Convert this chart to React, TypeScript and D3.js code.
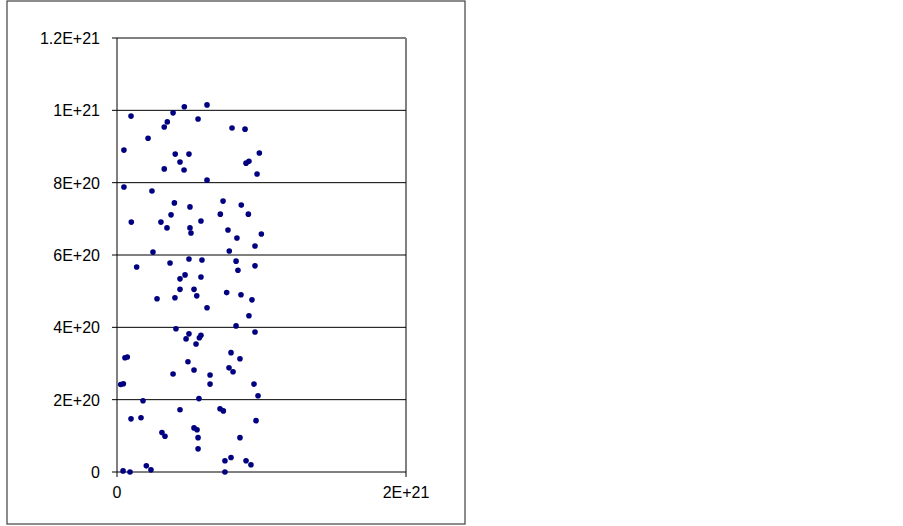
import React from "react";
import * as d3 from "d3";

const UNIT = 1e20;
// [x, y] in units of 1E+20
const points: [number, number][] = [
  [0.97, 9.84], [4.66, 10.1], [6.23, 10.15], [3.88, 9.93], [3.48, 9.68], [3.27, 9.54],
  [5.61, 9.76], [7.96, 9.51], [8.86, 9.48], [2.15, 9.23], [0.48, 8.9], [4.03, 8.79],
  [4.98, 8.79], [4.36, 8.57], [3.27, 8.38], [4.64, 8.35], [9.85, 8.82], [8.93, 8.54],
  [9.13, 8.59], [9.69, 8.24], [6.23, 8.07], [0.48, 7.88], [2.42, 7.77], [3.97, 7.44],
  [5.05, 7.33], [7.34, 7.49], [8.6, 7.38], [3.74, 7.11], [7.15, 7.13], [9.09, 7.13],
  [0.99, 6.91], [3.04, 6.91], [3.46, 6.75], [5.81, 6.94], [5.05, 6.75], [5.12, 6.61],
  [7.68, 6.69], [8.3, 6.47], [9.99, 6.58], [9.55, 6.25], [7.77, 6.11], [2.49, 6.08],
  [1.36, 5.67], [3.67, 5.78], [4.98, 5.89], [5.88, 5.86], [8.24, 5.83], [8.37, 5.58],
  [9.55, 5.7], [4.71, 5.45], [4.36, 5.34], [5.81, 5.39], [4.36, 5.05], [5.33, 5.05],
  [5.52, 4.87], [2.77, 4.79], [4.01, 4.82], [6.23, 4.54], [7.59, 4.96], [8.58, 4.9],
  [9.34, 4.76], [9.13, 4.32], [8.24, 4.04], [9.55, 3.87], [4.08, 3.96], [4.98, 3.82],
  [4.78, 3.68], [5.7, 3.71], [5.81, 3.78], [5.47, 3.54], [0.55, 3.16], [0.71, 3.18],
  [7.89, 3.3], [8.51, 3.13], [4.91, 3.05], [5.33, 2.82], [7.75, 2.88], [8.03, 2.77],
  [3.88, 2.71], [6.44, 2.68], [6.44, 2.43], [0.26, 2.42], [0.44, 2.44], [9.48, 2.43],
  [9.76, 2.11], [5.67, 2.03], [1.8, 1.97], [4.36, 1.72], [7.13, 1.75], [7.36, 1.69],
  [0.97, 1.47], [1.66, 1.5], [9.62, 1.42], [3.11, 1.09], [3.32, 0.99], [5.33, 1.22],
  [5.54, 1.17], [5.61, 0.95], [8.51, 0.95], [5.61, 0.64], [7.47, 0.31], [7.89, 0.4],
  [8.93, 0.31], [9.27, 0.2], [2.03, 0.17], [2.35, 0.06], [0.42, 0.03], [0.9, 0.0],
  [7.47, 0.0],
];

const yTicks = [0, 2e20, 4e20, 6e20, 8e20, 1e21, 1.2e21];
const yTickLabels = ["0", "2E+20", "4E+20", "6E+20", "8E+20", "1E+21", "1.2E+21"];
const xTicks = [0, 2e21];
const xTickLabels = ["0", "2E+21"];

export default function App() {
  const left = 117, right = 406, top = 38, bottom = 472;
  const x = d3.scaleLinear().domain([0, 2e21]).range([left, right]);
  const y = d3.scaleLinear().domain([0, 1.2e21]).range([bottom, top]);
  const font = "Arial, 'Liberation Sans', sans-serif";
  return (
    <svg width={903} height={526} style={{ position: "absolute", left: 0, top: 0 }}>
      <rect x={0} y={0} width={903} height={526} fill="#fff" />
      <rect x={7} y={1} width={458} height={523} fill="#fff" stroke="#404040" strokeWidth={1.2} />
      {/* plot border */}
      <line x1={left} x2={right} y1={y(1.2e21)} y2={y(1.2e21)} stroke="#808080" strokeWidth={2} />
      <line x1={right} x2={right} y1={top} y2={bottom} stroke="#808080" strokeWidth={2} />
      {/* gridlines */}
      {yTicks.slice(1, -1).map((t) => (
        <line key={t} x1={left} x2={right} y1={y(t)} y2={y(t)} stroke="#000" strokeWidth={1} />
      ))}
      {/* axes */}
      <line x1={left} x2={left} y1={top} y2={bottom} stroke="#000" strokeWidth={1} />
      <line x1={left} x2={right} y1={bottom} y2={bottom} stroke="#000" strokeWidth={1} />
      {yTicks.map((t, i) => (
        <g key={"y" + t}>
          <line x1={left - 5} x2={left} y1={y(t)} y2={y(t)} stroke="#000" />
          <text x={100} y={y(t) + 6} textAnchor="end" fontFamily={font} fontSize={16} fill="#000">
            {yTickLabels[i]}
          </text>
        </g>
      ))}
      {xTicks.map((t, i) => (
        <g key={"x" + t}>
          <line x1={x(t)} x2={x(t)} y1={bottom} y2={bottom + 5} stroke="#000" />
          <text x={x(t)} y={498} textAnchor="middle" fontFamily={font} fontSize={16} fill="#000">
            {xTickLabels[i]}
          </text>
        </g>
      ))}
      {points.map(([px, py], i) => (
        <circle key={i} cx={x(px * UNIT)} cy={y(py * UNIT)} r={2.8} fill="#000080" />
      ))}
    </svg>
  );
}
